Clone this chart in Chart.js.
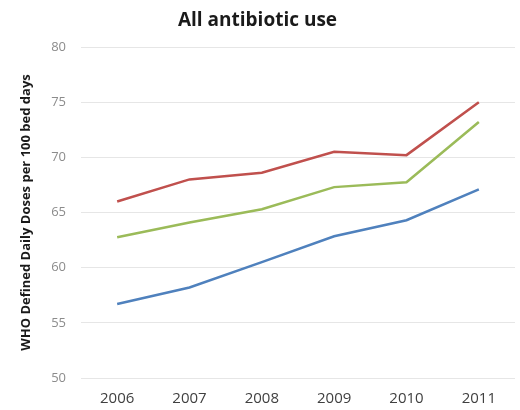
<!DOCTYPE html>
<html>
<head>
<meta charset="utf-8">
<script src="https://cdn.jsdelivr.net/npm/chart.js@4"></script>
<style>
  html, body { margin: 0; padding: 0; background: #fff; }
  #wrap { width: 520px; height: 410px; }
</style>
</head>
<body>
<div id="wrap"><canvas id="chart"></canvas></div>
<script>
// values
const years = ['2006', '2007', '2008', '2009', '2010', '2011']
const redSeries = [66.0, 68.0, 68.6, 70.5, 70.2, 75.0]
const greenSeries = [62.75, 64.1, 65.3, 67.3, 67.75, 73.2]
const blueSeries = [56.7, 58.2, 60.5, 62.85, 64.3, 67.1]
const yTicks = [50, 55, 60, 65, 70, 75, 80]

const line = (data, color) => ({
  data: data,
  borderColor: color,
  backgroundColor: color,
  borderWidth: 2.5,
  pointRadius: 0,
  tension: 0,
  fill: false
})

const ctx = document.getElementById('chart').getContext('2d')
new Chart(ctx, {
  type: 'line',
  data: {
    labels: years,
    datasets: [
      line(redSeries, '#c0504d'),
      line(greenSeries, '#9bbb59'),
      line(blueSeries, '#4f81bd')
    ]
  },
  options: {
    responsive: true,
    maintainAspectRatio: false,
    animation: false,
    layout: { padding: { left: 0, right: 5, top: 0, bottom: 0 } },
    plugins: {
      legend: { display: false },
      tooltip: { enabled: false },
      title: {
        display: true,
        text: 'All antibiotic use',
        color: '#1a1a1a',
        font: { family: 'Open Sans', size: 19, weight: 'bold', lineHeight: 1.2 },
        padding: { top: 9, bottom: 15.2 }
      }
    },
    scales: {
      x: {
        offset: true,
        grid: { display: false, drawTicks: false },
        border: { display: false },
        ticks: {
          color: '#404040',
          padding: 12,
          font: { family: 'Open Sans', size: 15 }
        },
        afterFit: (scale) => { scale.height = 32 }
      },
      y: {
        min: 50,
        max: 80,
        afterBuildTicks: (scale) => { scale.ticks = yTicks.map(v => ({ value: v })) },
        grid: { color: '#e6e6e6', lineWidth: 1, drawTicks: false },
        border: { display: false },
        ticks: {
          color: '#8c8c8c',
          padding: 15,
          font: { family: 'Open Sans', size: 13 }
        },
        title: {
          display: true,
          text: 'WHO Defined Daily Doses per 100 bed days',
          color: '#1a1a1a',
          font: { family: 'Open Sans', size: 13, weight: 'bold', lineHeight: 1.2 },
          padding: { top: 18, bottom: 0 }
        },
        afterFit: (scale) => { scale.width = 81 }
      }
    }
  }
})
</script>
</body>
</html>
